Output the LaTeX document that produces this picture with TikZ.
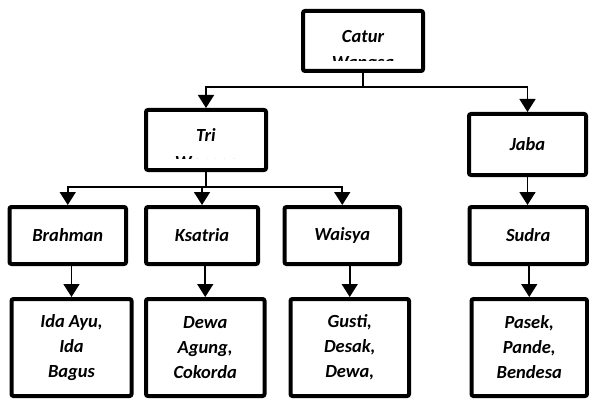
\documentclass[tikz,border=0pt]{standalone}
\usepackage{fontspec}
\setmainfont{Carlito}
\usetikzlibrary{arrows.meta}

\begin{document}
\begin{tikzpicture}[x=1pt,y=-1pt,
	box/.style={draw,line width=4pt,rounded corners=2pt,fill=white,inner sep=0pt,align=center,
		font=\fontsize{18.5}{25}\selectfont\bfseries\itshape},
	lbl/.style={inner sep=0pt,anchor=base,font=\fontsize{18.5}{25}\selectfont\bfseries\itshape},
	link/.style={line width=1.6pt},
	arr/.style={link,-{Triangle[length=13pt,width=16pt]}}]
		\useasboundingbox (0,0) rectangle (589,401);
		% top level
		\node[box,minimum width=120,minimum height=60] (catur) at (363,41) {};
		\begin{scope}
			\clip (303,11) rectangle (423,61);
			\node[lbl] (caturtxt) at (363,43) {Catur};
			\node[lbl] (caturtxt2) at (363,69) {Wangsa};
		\end{scope}
		% second level
		\node[box,minimum width=120,minimum height=60] (tri) at (206,140) {};
		\begin{scope}
			\clip (146,110) rectangle (266,159);
			\node[lbl] (tritxt) at (206,142) {Tri};
			\node[lbl] (tritxt2) at (206,168) {Wangsa};
		\end{scope}
		\node[box,minimum width=117,minimum height=61] (jaba) at (527.5,144.5) {Jaba};
		% the four castes
		\node[box,minimum width=116.5,minimum height=57] (brahman) at (67.75,235.5) {Brahman};
		\node[box,minimum width=112,minimum height=57] (ksatria) at (202,235.5) {Ksatria};
		\node[box,minimum width=115.5,minimum height=57] (waisya) at (342.25,235.5) {Waisya};
		\node[box,minimum width=117.5,minimum height=57] (sudra) at (528.25,235.5) {Sudra};
		% titles
		\node[box,minimum width=120,minimum height=97] (ida) at (71.5,347.5) {Ida Ayu,\\Ida\\Bagus};
		\node[box,minimum width=118.5,minimum height=97] (dewa) at (205.25,347.5) {Dewa\\Agung,\\Cokorda};
		\node[box,minimum width=118.5,minimum height=97] (gusti) at (349.75,347.5) {Gusti,\\Desak,\\Dewa,};
		\node[box,minimum width=115.5,minimum height=97] (pasek) at (529.25,347.5) {Pasek,\\Pande,\\Bendesa};
		% connectors
		\draw[link] (catur.south) -- ++(0,14) coordinate (cj);
		\draw[arr] (cj) -| (tri.north);
		\draw[arr] (cj) -| (jaba.north);
		\draw[link] (tri.south) -- ++(0,15) coordinate (tj);
		\draw[arr] (tj) -| (brahman.north);
		\draw[arr] (tj) -| (ksatria.north);
		\draw[arr] (tj) -| (waisya.north);
		\draw[arr] (jaba.south) -- (jaba.south |- sudra.north);
		\draw[arr] (brahman.south -| ida.north) -- (ida.north);
		\draw[arr] (ksatria.south -| dewa.north) -- (dewa.north);
		\draw[arr] (waisya.south -| gusti.north) -- (gusti.north);
		\draw[arr] (sudra.south -| pasek.north) -- (pasek.north);
	\end{tikzpicture}
\end{document}
